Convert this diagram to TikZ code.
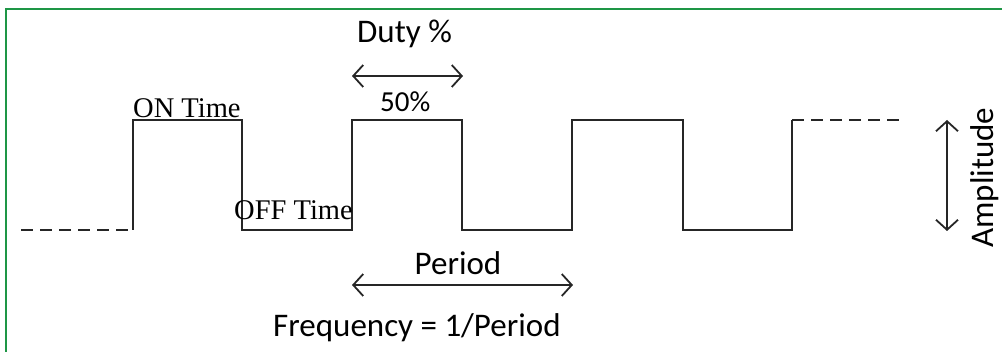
\documentclass[tikz,border=0pt]{standalone}
\usepackage{fontspec}
\setmainfont{Liberation Serif}
\newfontfamily\calibri{Carlito}
\usetikzlibrary{arrows.meta}

\colorlet{wave}{black!85}
\definecolor{frame}{RGB}{30,150,70}

\tikzset{
  sig/.style={line width=2.2pt, color=wave, line join=miter},
  tail/.style={sig, dash pattern=on 12pt off 7pt},
  dim/.style={line width=1.8pt, color=wave,
    {Straight Barb[length=10pt, width=22pt]}-{Straight Barb[length=10pt, width=22pt]}},
  lbl/.style={font=\calibri\fontsize{33}{36}\selectfont, inner sep=0pt},
  tag/.style={font=\fontsize{28.5}{30}\selectfont, inner sep=0pt}
}

\begin{document}
\begin{tikzpicture}[x=1pt, y=-1pt]
  \useasboundingbox (0,0) rectangle (1002,352);
  \draw[line width=2.5pt, color=frame] (6,352) -- (6,9) -- (1002,9);

  % edges of the pulse train
  \coordinate (start) at (21,230);
  \coordinate (r1) at (133,230);
  \coordinate (f1) at (242,120);
  \coordinate (r2) at (352,230);
  \coordinate (f2) at (462,120);
  \coordinate (r3) at (572,230);
  \coordinate (f3) at (683,120);
  \coordinate (r4) at (792,230);
  \coordinate (stop) at (905,120);

  \draw[tail] (start) -- (r1);
  \draw[sig] (r1) |- (f1) |- (r2) |- (f2) |- (r3) |- (f3) |- (r4) -- (r4 |- stop);
  \draw[tail] (r4 |- stop) -- (stop);

  % dimension arrows
  \coordinate (duty-a) at (352,76);
  \coordinate (duty-b) at (463,76);
  \coordinate (per-a) at (352,285);
  \coordinate (per-b) at (573,285);
  \coordinate (amp-a) at (947,120);
  \coordinate (amp-b) at (947,231);
  \draw[dim] (duty-a) -- (duty-b);
  \draw[dim] (per-a) -- (per-b);
  \draw[dim] (amp-a) -- (amp-b);

  % labels
  \node[lbl, anchor=base west] (duty) at (357,43) {Duty \%};
  \node[lbl, anchor=base west, font=\calibri\fontsize{29}{31}\selectfont] (fifty) at (380,112) {50\%};
  \node[tag, anchor=base west] (on) at (133,118) {ON Time};
  \node[tag, anchor=base west] (off) at (234,220) {OFF Time};
  \node[lbl, anchor=base] (period) at (458,275) {Period};
  \node[lbl, anchor=base west] (freq) at (273,337) {Frequency = 1/Period};
  \node[lbl, anchor=base west, rotate=90] (amp) at (993,248) {Amplitude};
\end{tikzpicture}
\end{document}
